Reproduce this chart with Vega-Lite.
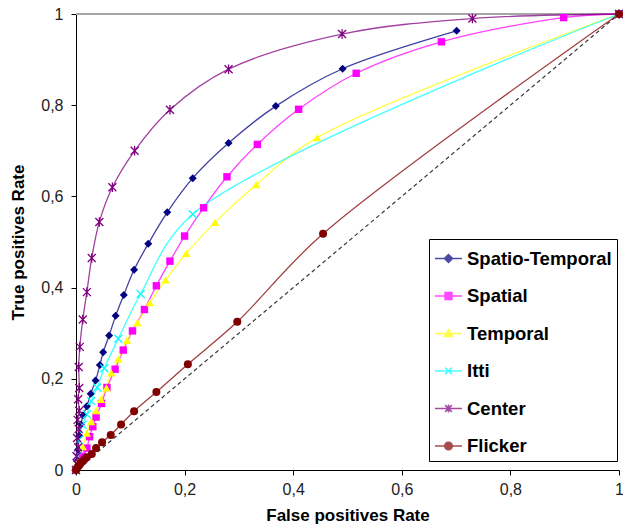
{
  "$schema": "https://vega.github.io/schema/vega-lite/v6.json",
  "width": 543,
  "height": 456,
  "autosize": "none",
  "padding": {"left": 76, "top": 14, "right": 4, "bottom": 57},
  "background": "white",
  "config": {"view": {"stroke": null}, "font": "Liberation Sans"},
  "datasets": {
    "roc": [
      {"series": "Spatio-Temporal", "fpr": 0, "tpr": 0},
      {"series": "Spatio-Temporal", "fpr": 0.002, "tpr": 0.02},
      {"series": "Spatio-Temporal", "fpr": 0.004, "tpr": 0.045},
      {"series": "Spatio-Temporal", "fpr": 0.006, "tpr": 0.075},
      {"series": "Spatio-Temporal", "fpr": 0.009, "tpr": 0.1},
      {"series": "Spatio-Temporal", "fpr": 0.013, "tpr": 0.12},
      {"series": "Spatio-Temporal", "fpr": 0.02, "tpr": 0.14},
      {"series": "Spatio-Temporal", "fpr": 0.027, "tpr": 0.167},
      {"series": "Spatio-Temporal", "fpr": 0.036, "tpr": 0.196},
      {"series": "Spatio-Temporal", "fpr": 0.044, "tpr": 0.23},
      {"series": "Spatio-Temporal", "fpr": 0.05, "tpr": 0.258},
      {"series": "Spatio-Temporal", "fpr": 0.061, "tpr": 0.295},
      {"series": "Spatio-Temporal", "fpr": 0.073, "tpr": 0.338},
      {"series": "Spatio-Temporal", "fpr": 0.088, "tpr": 0.384},
      {"series": "Spatio-Temporal", "fpr": 0.107, "tpr": 0.439},
      {"series": "Spatio-Temporal", "fpr": 0.133, "tpr": 0.496},
      {"series": "Spatio-Temporal", "fpr": 0.168, "tpr": 0.565},
      {"series": "Spatio-Temporal", "fpr": 0.215, "tpr": 0.64},
      {"series": "Spatio-Temporal", "fpr": 0.281, "tpr": 0.717},
      {"series": "Spatio-Temporal", "fpr": 0.368, "tpr": 0.798},
      {"series": "Spatio-Temporal", "fpr": 0.491, "tpr": 0.88},
      {"series": "Spatio-Temporal", "fpr": 0.701, "tpr": 0.963},
      {"series": "Spatial", "fpr": 0, "tpr": 0},
      {"series": "Spatial", "fpr": 0.006, "tpr": 0.015},
      {"series": "Spatial", "fpr": 0.012, "tpr": 0.03},
      {"series": "Spatial", "fpr": 0.02, "tpr": 0.048},
      {"series": "Spatial", "fpr": 0.025, "tpr": 0.073},
      {"series": "Spatial", "fpr": 0.031, "tpr": 0.095},
      {"series": "Spatial", "fpr": 0.037, "tpr": 0.116},
      {"series": "Spatial", "fpr": 0.047, "tpr": 0.146},
      {"series": "Spatial", "fpr": 0.057, "tpr": 0.181},
      {"series": "Spatial", "fpr": 0.072, "tpr": 0.221},
      {"series": "Spatial", "fpr": 0.087, "tpr": 0.263},
      {"series": "Spatial", "fpr": 0.104, "tpr": 0.305},
      {"series": "Spatial", "fpr": 0.126, "tpr": 0.352},
      {"series": "Spatial", "fpr": 0.148, "tpr": 0.404},
      {"series": "Spatial", "fpr": 0.173, "tpr": 0.458},
      {"series": "Spatial", "fpr": 0.2, "tpr": 0.513},
      {"series": "Spatial", "fpr": 0.235, "tpr": 0.575},
      {"series": "Spatial", "fpr": 0.278, "tpr": 0.643},
      {"series": "Spatial", "fpr": 0.334, "tpr": 0.714},
      {"series": "Spatial", "fpr": 0.41, "tpr": 0.791},
      {"series": "Spatial", "fpr": 0.516, "tpr": 0.87},
      {"series": "Spatial", "fpr": 0.673, "tpr": 0.939},
      {"series": "Spatial", "fpr": 0.898, "tpr": 0.992},
      {"series": "Spatial", "fpr": 1, "tpr": 1},
      {"series": "Temporal", "fpr": 0, "tpr": 0},
      {"series": "Temporal", "fpr": 0.005, "tpr": 0.02},
      {"series": "Temporal", "fpr": 0.0125, "tpr": 0.051},
      {"series": "Temporal", "fpr": 0.02, "tpr": 0.081},
      {"series": "Temporal", "fpr": 0.028, "tpr": 0.106},
      {"series": "Temporal", "fpr": 0.037, "tpr": 0.13},
      {"series": "Temporal", "fpr": 0.046, "tpr": 0.155},
      {"series": "Temporal", "fpr": 0.056, "tpr": 0.18},
      {"series": "Temporal", "fpr": 0.065, "tpr": 0.213},
      {"series": "Temporal", "fpr": 0.078, "tpr": 0.243},
      {"series": "Temporal", "fpr": 0.094, "tpr": 0.284},
      {"series": "Temporal", "fpr": 0.113, "tpr": 0.323},
      {"series": "Temporal", "fpr": 0.136, "tpr": 0.367},
      {"series": "Temporal", "fpr": 0.165, "tpr": 0.417},
      {"series": "Temporal", "fpr": 0.203, "tpr": 0.475},
      {"series": "Temporal", "fpr": 0.256, "tpr": 0.543},
      {"series": "Temporal", "fpr": 0.332, "tpr": 0.626},
      {"series": "Temporal", "fpr": 0.444, "tpr": 0.729},
      {"series": "Temporal", "fpr": 1, "tpr": 1},
      {"series": "Itti", "fpr": 0, "tpr": 0},
      {"series": "Itti", "fpr": 0.002, "tpr": 0.03},
      {"series": "Itti", "fpr": 0.005, "tpr": 0.066},
      {"series": "Itti", "fpr": 0.012, "tpr": 0.099},
      {"series": "Itti", "fpr": 0.02, "tpr": 0.122},
      {"series": "Itti", "fpr": 0.028, "tpr": 0.151},
      {"series": "Itti", "fpr": 0.039, "tpr": 0.181},
      {"series": "Itti", "fpr": 0.052, "tpr": 0.223},
      {"series": "Itti", "fpr": 0.078, "tpr": 0.288},
      {"series": "Itti", "fpr": 0.119, "tpr": 0.386},
      {"series": "Itti", "fpr": 0.215, "tpr": 0.561},
      {"series": "Itti", "fpr": 1, "tpr": 1},
      {"series": "Center", "fpr": 0, "tpr": 0},
      {"series": "Center", "fpr": 0.003, "tpr": 0.012},
      {"series": "Center", "fpr": 0.001, "tpr": 0.03},
      {"series": "Center", "fpr": 0.004, "tpr": 0.05},
      {"series": "Center", "fpr": 0.002, "tpr": 0.07},
      {"series": "Center", "fpr": 0.005, "tpr": 0.09},
      {"series": "Center", "fpr": 0.003, "tpr": 0.11},
      {"series": "Center", "fpr": 0.006, "tpr": 0.13},
      {"series": "Center", "fpr": 0.004, "tpr": 0.155},
      {"series": "Center", "fpr": 0.006, "tpr": 0.18},
      {"series": "Center", "fpr": 0.005, "tpr": 0.226},
      {"series": "Center", "fpr": 0.007, "tpr": 0.27},
      {"series": "Center", "fpr": 0.0125, "tpr": 0.33},
      {"series": "Center", "fpr": 0.02, "tpr": 0.39},
      {"series": "Center", "fpr": 0.029, "tpr": 0.465},
      {"series": "Center", "fpr": 0.043, "tpr": 0.544},
      {"series": "Center", "fpr": 0.067, "tpr": 0.62},
      {"series": "Center", "fpr": 0.108, "tpr": 0.7},
      {"series": "Center", "fpr": 0.173, "tpr": 0.79},
      {"series": "Center", "fpr": 0.281, "tpr": 0.879},
      {"series": "Center", "fpr": 0.49, "tpr": 0.956},
      {"series": "Center", "fpr": 0.73, "tpr": 0.99},
      {"series": "Center", "fpr": 1, "tpr": 1},
      {"series": "Flicker", "fpr": 0, "tpr": 0},
      {"series": "Flicker", "fpr": 0.002, "tpr": 0.004},
      {"series": "Flicker", "fpr": 0.004, "tpr": 0.008},
      {"series": "Flicker", "fpr": 0.007, "tpr": 0.012},
      {"series": "Flicker", "fpr": 0.01, "tpr": 0.017},
      {"series": "Flicker", "fpr": 0.013, "tpr": 0.02},
      {"series": "Flicker", "fpr": 0.016, "tpr": 0.024},
      {"series": "Flicker", "fpr": 0.02, "tpr": 0.028},
      {"series": "Flicker", "fpr": 0.029, "tpr": 0.035},
      {"series": "Flicker", "fpr": 0.037, "tpr": 0.048},
      {"series": "Flicker", "fpr": 0.048, "tpr": 0.061},
      {"series": "Flicker", "fpr": 0.064, "tpr": 0.077},
      {"series": "Flicker", "fpr": 0.083, "tpr": 0.1},
      {"series": "Flicker", "fpr": 0.107, "tpr": 0.129},
      {"series": "Flicker", "fpr": 0.148, "tpr": 0.171},
      {"series": "Flicker", "fpr": 0.206, "tpr": 0.232},
      {"series": "Flicker", "fpr": 0.297, "tpr": 0.325},
      {"series": "Flicker", "fpr": 0.455, "tpr": 0.518},
      {"series": "Flicker", "fpr": 1, "tpr": 1}
    ],
    "diag": [{"fpr": 0, "tpr": 0}, {"fpr": 1, "tpr": 1}]
  },
  "data": {"name": "roc"},
  "layer": [
    {
      "data": {"name": "diag"},
      "mark": {"type": "line", "strokeDash": [4, 3], "color": "#333333", "strokeWidth": 1.2},
      "encoding": {
        "x": {"field": "fpr", "type": "quantitative", "scale": {"domain": [0, 1], "nice": false},
          "axis": {"title": "False positives Rate", "values": [0, 0.2, 0.4, 0.6, 0.8, 1], "grid": false,
            "domainColor": "#000000", "tickColor": "#000000", "tickSize": 5, "labelFontSize": 16, "labelColor": "#222222",
            "labelPadding": 6, "labelFlush": false, "labelExpr": "replace(format(datum.value, '~g'), '.', ',')",
            "titleFontSize": 17, "titleFontWeight": "bold", "titleColor": "#000000", "titleBaseline": "middle", "titleY": 45}},
        "y": {"field": "tpr", "type": "quantitative", "scale": {"domain": [0, 1], "nice": false},
          "axis": {"title": "True positives Rate", "values": [0, 0.2, 0.4, 0.6, 0.8, 1], "grid": false,
            "domainColor": "#000000", "tickColor": "#000000", "tickSize": 5, "labelFontSize": 16, "labelColor": "#222222",
            "labelPadding": 8, "labelExpr": "replace(format(datum.value, '~g'), '.', ',')",
            "titleFontSize": 17, "titleFontWeight": "bold", "titleColor": "#000000", "titleBaseline": "middle", "titleX": -58}}
      }
    },
    {
      "mark": {"type": "rule", "color": "#a6a6a6", "strokeWidth": 1.5},
      "encoding": {"y": {"datum": 1}}
    },
    {
      "mark": {"type": "line", "interpolate": "catmull-rom", "strokeWidth": 1.3, "strokeOpacity": 0.75},
      "encoding": {
        "x": {"field": "fpr", "type": "quantitative"},
        "y": {"field": "tpr", "type": "quantitative"},
        "order": {"field": "tpr"},
        "color": {"field": "series", "type": "nominal",
          "scale": {"domain": ["Spatio-Temporal", "Spatial", "Temporal", "Itti", "Center", "Flicker"],
            "range": ["#000080", "#ff00ff", "#ffff00", "#00ffff", "#800080", "#800000"]},
          "legend": {"orient": "none", "legendX": 353, "legendY": 225, "title": null,
            "strokeColor": "#000000", "fillColor": "#ffffff", "padding": 5, "rowPadding": 13.5,
            "symbolSize": 729, "symbolStrokeWidth": 1.5, "labelFontSize": 18.5, "labelFontWeight": "bold",
            "labelColor": "#000000", "labelOffset": 4, "labelLimit": 300}
        }
      }
    },
    {
      "mark": {"type": "point", "filled": true, "size": 0, "strokeWidth": 1.5},
      "encoding": {
        "x": {"field": "fpr", "type": "quantitative"},
        "y": {"field": "tpr", "type": "quantitative"},
        "color": {"field": "series", "type": "nominal",
          "legend": {"orient": "none", "legendX": 353, "legendY": 225, "title": null,
            "strokeColor": "#000000", "fillColor": "#ffffff", "padding": 5, "rowPadding": 13.5,
            "symbolSize": 729, "symbolStrokeWidth": 1.5, "labelFontSize": 18.5, "labelFontWeight": "bold",
            "labelColor": "#000000", "labelOffset": 4, "labelLimit": 300}},
        "stroke": {"field": "series", "type": "nominal",
          "scale": {"domain": ["Spatio-Temporal", "Spatial", "Temporal", "Itti", "Center", "Flicker"],
            "range": ["#000080", "#ff00ff", "#ffff00", "#00ffff", "#800080", "#800000"]},
          "legend": {"orient": "none", "legendX": 353, "legendY": 225, "title": null,
            "strokeColor": "#000000", "fillColor": "#ffffff", "padding": 5, "rowPadding": 13.5,
            "symbolSize": 729, "symbolStrokeWidth": 1.5, "labelFontSize": 18.5, "labelFontWeight": "bold",
            "labelColor": "#000000", "labelOffset": 4, "labelLimit": 300}},
        "shape": {"field": "series", "type": "nominal",
          "scale": {"domain": ["Spatio-Temporal", "Spatial", "Temporal", "Itti", "Center", "Flicker"],
            "range": ["M-1,0H1M0,-0.3L0.3,0L0,0.3L-0.3,0Z", "M-1,0H1M-0.26,-0.26H0.26V0.26H-0.26Z", "M-1,0H1M0,-0.3L0.3,0.22H-0.3Z", "M-1,0H1M-0.25,-0.25L0.25,0.25M-0.25,0.25L0.25,-0.25", "M-1,0H1M-0.25,-0.25L0.25,0.25M-0.25,0.25L0.25,-0.25M0,-0.3V0.3", "M-1,0H1M0.28,0A0.28,0.28 0 1 1 -0.28,0A0.28,0.28 0 1 1 0.28,0Z"]},
          "legend": {"orient": "none", "legendX": 353, "legendY": 225, "title": null,
            "strokeColor": "#000000", "fillColor": "#ffffff", "padding": 5, "rowPadding": 13.5,
            "symbolSize": 729, "symbolStrokeWidth": 1.5, "labelFontSize": 18.5, "labelFontWeight": "bold",
            "labelColor": "#000000", "labelOffset": 4, "labelLimit": 300}}
      }
    },
    {
      "transform": [{"filter": "datum.series === 'Spatio-Temporal'"}],
      "mark": {"type": "point", "shape": "diamond", "filled": true, "opacity": 1, "size": 64, "color": "#000080"},
      "encoding": {"x": {"field": "fpr", "type": "quantitative"}, "y": {"field": "tpr", "type": "quantitative"}}
    },
    {
      "transform": [{"filter": "datum.series === 'Spatial'"}],
      "mark": {"type": "point", "shape": "square", "filled": true, "opacity": 1, "size": 55, "color": "#ff00ff"},
      "encoding": {"x": {"field": "fpr", "type": "quantitative"}, "y": {"field": "tpr", "type": "quantitative"}}
    },
    {
      "transform": [{"filter": "datum.series === 'Temporal'"}],
      "mark": {"type": "point", "shape": "triangle-up", "filled": true, "opacity": 1, "size": 70, "color": "#ffff00"},
      "encoding": {"x": {"field": "fpr", "type": "quantitative"}, "y": {"field": "tpr", "type": "quantitative"}}
    },
    {
      "transform": [{"filter": "datum.series === 'Itti'"}],
      "mark": {"type": "point", "shape": "M-1,-1L1,1M-1,1L1,-1", "filled": false, "opacity": 1, "size": 64, "strokeWidth": 1.3, "color": "#00ffff"},
      "encoding": {"x": {"field": "fpr", "type": "quantitative"}, "y": {"field": "tpr", "type": "quantitative"}}
    },
    {
      "transform": [{"filter": "datum.series === 'Center'"}],
      "mark": {"type": "point", "shape": "M-1,-1L1,1M-1,1L1,-1M0,-1.2V1.2", "filled": false, "opacity": 1, "size": 64, "strokeWidth": 1.3, "color": "#800080"},
      "encoding": {"x": {"field": "fpr", "type": "quantitative"}, "y": {"field": "tpr", "type": "quantitative"}}
    },
    {
      "transform": [{"filter": "datum.series === 'Flicker'"}],
      "mark": {"type": "point", "shape": "circle", "filled": true, "opacity": 1, "size": 64, "color": "#800000"},
      "encoding": {"x": {"field": "fpr", "type": "quantitative"}, "y": {"field": "tpr", "type": "quantitative"}}
    }
  ]
}
